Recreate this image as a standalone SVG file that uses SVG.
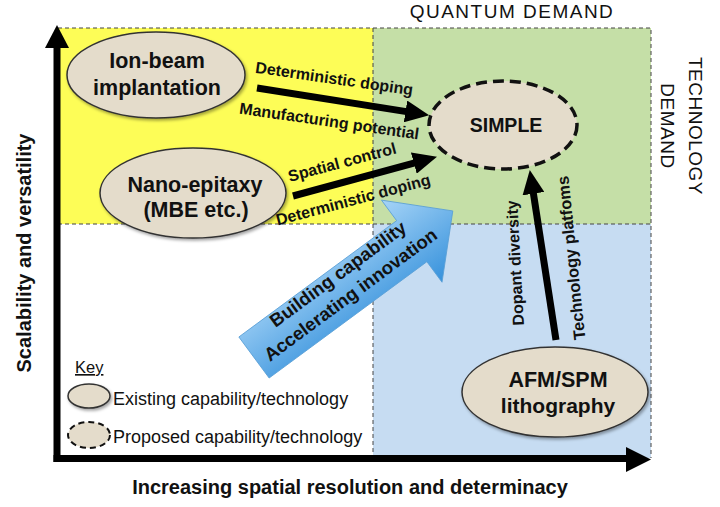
<svg xmlns="http://www.w3.org/2000/svg" width="720" height="507" viewBox="0 0 720 507">
<style>
.t{font-family:"Liberation Sans",Arial,sans-serif;fill:#111}
.b{font-weight:bold}
.node{fill:#e4dccb;stroke:#333;stroke-width:1.5}
.prop{fill:#e4dccb;stroke:#111;stroke-width:3.5;stroke-dasharray:11 6}
.grid{fill:none;stroke:#444;stroke-width:1;stroke-dasharray:4 3}
.conn{stroke:#000;stroke-width:7;fill:none}
</style>
<defs>
<marker id="ah" markerUnits="userSpaceOnUse" markerWidth="24" markerHeight="22" refX="1" refY="11" orient="auto" viewBox="0 0 24 22">
<path d="M0,0 L24,11 L0,22 z" fill="#000"/>
</marker>
<linearGradient id="bg" x1="0" y1="0" x2="0" y2="1">
<stop offset="0" stop-color="#a6d4f7"/>
<stop offset="1" stop-color="#3792dc"/>
</linearGradient>
<filter id="sh" x="-20%" y="-20%" width="140%" height="150%">
<feDropShadow dx="1.5" dy="2" stdDeviation="1.5" flood-color="#000" flood-opacity="0.35"/>
</filter>
</defs>

<g id="quadrants">
<rect x="58" y="28" width="315" height="196" fill="#fdfd57"/>
<rect x="373" y="28" width="278" height="196" fill="#c5dfa7"/>
<rect x="373" y="224" width="278" height="234" fill="#c6dcf2"/>
<rect x="58" y="224" width="315" height="234" fill="#fff"/>
<path class="grid" d="M58,28 H651 V458 M58,224 H651 M373,28 V458"/>
</g>

<g id="axes">
<rect x="53.5" y="46" width="7" height="416" fill="#000"/>
<polygon points="45,48 57,25 69,48" fill="#000"/>
<rect x="53.5" y="455" width="574" height="7" fill="#000"/>
<polygon points="626,447 651,459.5 626,472" fill="#000"/>
<text class="t b" font-size="20" text-anchor="middle" transform="translate(31,253) rotate(-90)">Scalability and versatility</text>
<text class="t b" font-size="20" text-anchor="middle" x="350" y="494">Increasing spatial resolution and determinacy</text>
<text class="t" font-size="19" letter-spacing="1.5" text-anchor="middle" x="512" y="18">QUANTUM DEMAND</text>
<text class="t" font-size="19" letter-spacing="0.5" text-anchor="middle" transform="translate(689,126) rotate(90)">TECHNOLOGY</text>
<text class="t" font-size="19" letter-spacing="0.5" text-anchor="middle" transform="translate(661,126) rotate(90)">DEMAND</text>
</g>

<g id="blue-arrow" transform="translate(254,357.5) rotate(-36.4)">
<path d="M0,-25.5 H196 V-51 L247,0 L196,51 V25.5 H0 Z" fill="url(#bg)" stroke="#5a9fd6" stroke-width="0.8"/>
<text class="t b" font-size="18.5" text-anchor="middle" x="117" y="-11">Building capability</text>
<text class="t b" font-size="18.5" text-anchor="middle" x="115" y="13">Accelerating innovation</text>
</g>

<g id="connectors">
<line class="conn" x1="257" y1="88" x2="406.5" y2="111.6" marker-end="url(#ah)"/>
<line class="conn" x1="293" y1="196" x2="414.8" y2="162.8" marker-end="url(#ah)"/>
<line class="conn" x1="556" y1="340" x2="533.3" y2="192.7" marker-end="url(#ah)"/>
<text class="t b" font-size="16" text-anchor="middle" transform="translate(333.5,84) rotate(8.2)">Deterministic doping</text>
<text class="t b" font-size="16" text-anchor="middle" transform="translate(328.5,126.5) rotate(8.2)">Manufacturing potential</text>
<text class="t b" font-size="16" text-anchor="middle" transform="translate(343.5,167.5) rotate(-15)">Spatial control</text>
<text class="t b" font-size="16" text-anchor="middle" transform="translate(354.5,205) rotate(-15)">Deterministic doping</text>
<text class="t b" font-size="16" text-anchor="middle" transform="translate(520.6,262.7) rotate(-93)">Dopant diversity</text>
<text class="t b" font-size="16.5" text-anchor="middle" transform="translate(576.8,257.4) rotate(-96)">Technology platfoms</text>
</g>

<g id="ion-beam">
<ellipse class="node" filter="url(#sh)" cx="156" cy="75" rx="89" ry="43"/>
<text class="t b" font-size="21.5" text-anchor="middle" x="157" y="68">Ion-beam</text>
<text class="t b" font-size="21.5" text-anchor="middle" x="157" y="95">implantation</text>
</g>

<g id="nano-epitaxy">
<ellipse class="node" filter="url(#sh)" cx="193" cy="193" rx="93" ry="45"/>
<text class="t b" font-size="21.5" text-anchor="middle" x="195" y="192">Nano-epitaxy</text>
<text class="t b" font-size="21.5" text-anchor="middle" x="196" y="217">(MBE etc.)</text>
</g>

<g id="simple">
<ellipse class="prop" cx="503" cy="125" rx="74" ry="44"/>
<text class="t b" font-size="19.5" text-anchor="middle" x="506" y="132">SIMPLE</text>
</g>

<g id="afm-spm">
<ellipse class="node" filter="url(#sh)" cx="555" cy="392" rx="93" ry="45"/>
<text class="t b" font-size="21.5" text-anchor="middle" x="558" y="387">AFM/SPM</text>
<text class="t b" font-size="21" text-anchor="middle" x="558" y="413">lithography</text>
</g>

<g id="key">
<text class="t" font-size="16.5" x="75" y="373" text-decoration="underline">Key</text>
<ellipse class="node" filter="url(#sh)" cx="89" cy="396" rx="21" ry="12"/>
<text class="t" font-size="18" x="113" y="405">Existing capability/technology</text>
<ellipse fill="#e4dccb" stroke="#111" stroke-width="2" stroke-dasharray="6 4" cx="89" cy="435" rx="21" ry="13"/>
<text class="t" font-size="18" x="113" y="443">Proposed capability/technology</text>
</g>
</svg>
